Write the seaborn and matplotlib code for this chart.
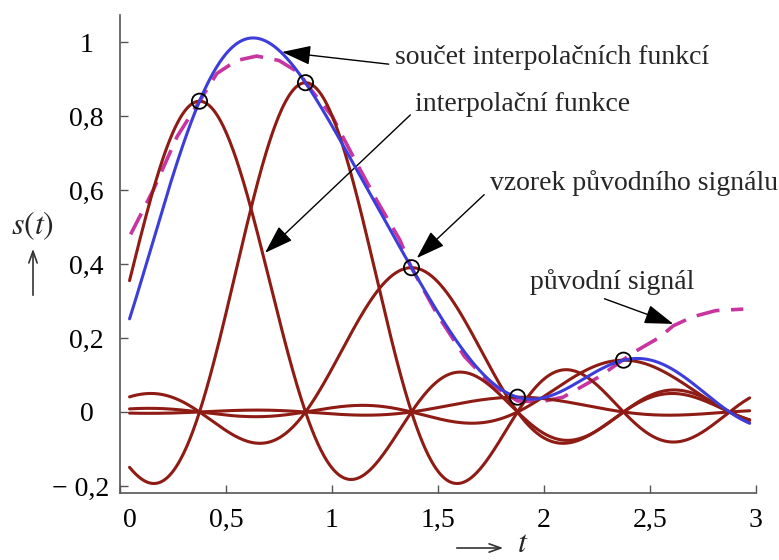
import numpy as np
import pandas as pd
import matplotlib
matplotlib.use("Agg")
import matplotlib.pyplot as plt
import matplotlib.transforms as mtransforms
import seaborn as sns

# ---- data ----
sample_t = [0.375, 0.875, 1.375, 1.875, 2.375]      # sampling instants (T = 0.5)
sample_s = [0.84, 0.89, 0.39, 0.04, 0.14]            # sample values
T_sampling = 0.5

orig_t = [0.05, 0.157, 0.27, 0.375, 0.457, 0.55, 0.645, 0.75, 0.85, 0.875, 1.0, 1.1,
          1.21, 1.32, 1.375, 1.5, 1.625, 1.75, 1.875, 1.98, 2.09, 2.26, 2.42, 2.54,
          2.61, 2.70, 2.81, 2.94]
orig_s = [0.48, 0.60, 0.745, 0.84, 0.915, 0.95, 0.962, 0.95, 0.915, 0.89, 0.80, 0.69,
          0.573, 0.465, 0.39, 0.26, 0.15, 0.075, 0.03, 0.027, 0.04, 0.095, 0.16, 0.20,
          0.233, 0.257, 0.274, 0.278]

x_ticks = [0, 0.5, 1, 1.5, 2, 2.5, 3]
x_ticklabels = ["0", "0,5", "1", "1,5", "2", "2,5", "3"]
y_ticks = [-0.2, 0, 0.2, 0.4, 0.6, 0.8, 1.0]
y_ticklabels = ["\u2212 0,2", "0", "0,2", "0,4", "0,6", "0,8", "1"]

label_sum = "součet interpolačních funkcí"
label_interp = "interpolační funkce"
label_sample = "vzorek původního signálu"
label_orig = "původní signál"

# ---- style ----
sns.set_theme(style="ticks")
plt.rcParams["font.family"] = ["Liberation Serif", "DejaVu Serif"]
plt.rcParams["mathtext.fontset"] = "stix"

RED = "#8E1B14"
BLUE = "#3D3DDA"
MAGENTA = "#C8359F"

fig = plt.figure(figsize=(7.79, 5.6), dpi=100)
W, H = 779, 560
ax = fig.add_axes([120 / W, 1 - 493 / H, 636 / W, (493 - 15) / H])

# interpolation functions (sinc kernels weighted by the samples)
t = np.linspace(0.045, 2.97, 600)
rows = []
total = np.zeros_like(t)
for k, (tk, sk) in enumerate(zip(sample_t, sample_s)):
    yk = sk * np.sinc((t - tk) / T_sampling)
    total += yk
    rows.append(pd.DataFrame({"t": t, "s": yk, "k": k}))
df_interp = pd.concat(rows, ignore_index=True)
df_sum = pd.DataFrame({"t": t, "s": total})
df_orig = pd.DataFrame({"t": orig_t, "s": orig_s})
df_samp = pd.DataFrame({"t": sample_t, "s": sample_s})

sns.lineplot(data=df_orig, x="t", y="s", ax=ax, color=MAGENTA, lw=2.6,
             linestyle=(0, (6.5, 3.2)), sort=False, zorder=2)
sns.lineplot(data=df_interp, x="t", y="s", units="k", estimator=None, ax=ax,
             color=RED, lw=2.2, sort=False, zorder=3)
sns.lineplot(data=df_sum, x="t", y="s", ax=ax, color=BLUE, lw=2.2, sort=False, zorder=4)
sns.scatterplot(data=df_samp, x="t", y="s", ax=ax, s=120, facecolor="none",
                edgecolor="black", linewidth=1.3, zorder=5)

ax.set_xlim(0, 3)
ax.set_ylim(-0.219, 1.073)
ax.set_xticks(x_ticks)
ax.set_xticklabels(x_ticklabels)
ax.set_yticks(y_ticks)
ax.set_yticklabels(y_ticklabels)
ax.tick_params(direction="in", length=6, width=1.0, colors="#555555",
               labelcolor="black", labelsize=20)
ax.tick_params(axis="x", pad=11)
ax.tick_params(axis="y", pad=24)
for lab in ax.get_yticklabels():
    lab.set_ha("center")
# small offsets seen in the reference
xl = ax.get_xticklabels()
xl[0].set_transform(xl[0].get_transform() + mtransforms.ScaledTranslation(10 / 100, 0, fig.dpi_scale_trans))
yl = ax.get_yticklabels()
yl[0].set_transform(yl[0].get_transform() + mtransforms.ScaledTranslation(-6 / 100, 0, fig.dpi_scale_trans))
for sp in ["top", "right"]:
    ax.spines[sp].set_visible(False)
for sp in ["left", "bottom"]:
    ax.spines[sp].set_color("#555555")
    ax.spines[sp].set_linewidth(1.2)
ax.set_xlabel("")
ax.set_ylabel("")
ax.grid(False)

# axis labels with arrows
fig.text(33 / W, 1 - 226 / H, r"$s(t)$", ha="center", va="center", fontsize=23)
ax.annotate("", xy=(33 / W, 1 - 246 / H), xytext=(33 / W, 1 - 298 / H),
            xycoords="figure fraction", textcoords="figure fraction",
            arrowprops=dict(arrowstyle="->,head_length=0.7,head_width=0.25", lw=1.2, color="#333333"))
ax.annotate("", xy=(506 / W, 1 - 548 / H), xytext=(454 / W, 1 - 548 / H),
            xycoords="figure fraction", textcoords="figure fraction",
            arrowprops=dict(arrowstyle="->,head_length=0.7,head_width=0.25", lw=1.2, color="#333333"))
fig.text(523 / W, 1 - 545 / H, r"$t$", ha="center", va="center", fontsize=23)

# annotations
arrow_kw = dict(arrowstyle="-|>,head_length=0.9,head_width=0.3", lw=1.0, color="black",
                shrinkA=0, shrinkB=0)
fs = 20
ax.annotate(label_sum, xy=(0.764, 0.973), xytext=(1.297, 0.957), fontsize=fs,
            va="center", ha="left", arrowprops=dict(**arrow_kw, relpos=(-0.02, 0.25)))
ax.annotate(label_interp, xy=(0.684, 0.43), xytext=(1.39, 0.83), fontsize=fs,
            va="center", ha="left", arrowprops=dict(**arrow_kw, relpos=(-0.02, 0.1)))
ax.annotate(label_sample, xy=(1.40, 0.416), xytext=(1.745, 0.619), fontsize=fs,
            va="center", ha="left", arrowprops=dict(**arrow_kw, relpos=(-0.02, 0.05)))
ax.annotate(label_orig, xy=(2.61, 0.238), xytext=(1.934, 0.35), fontsize=fs,
            va="center", ha="left", arrowprops=dict(**arrow_kw, relpos=(0.42, -0.05)))

fig.savefig("out.png", dpi=100)
